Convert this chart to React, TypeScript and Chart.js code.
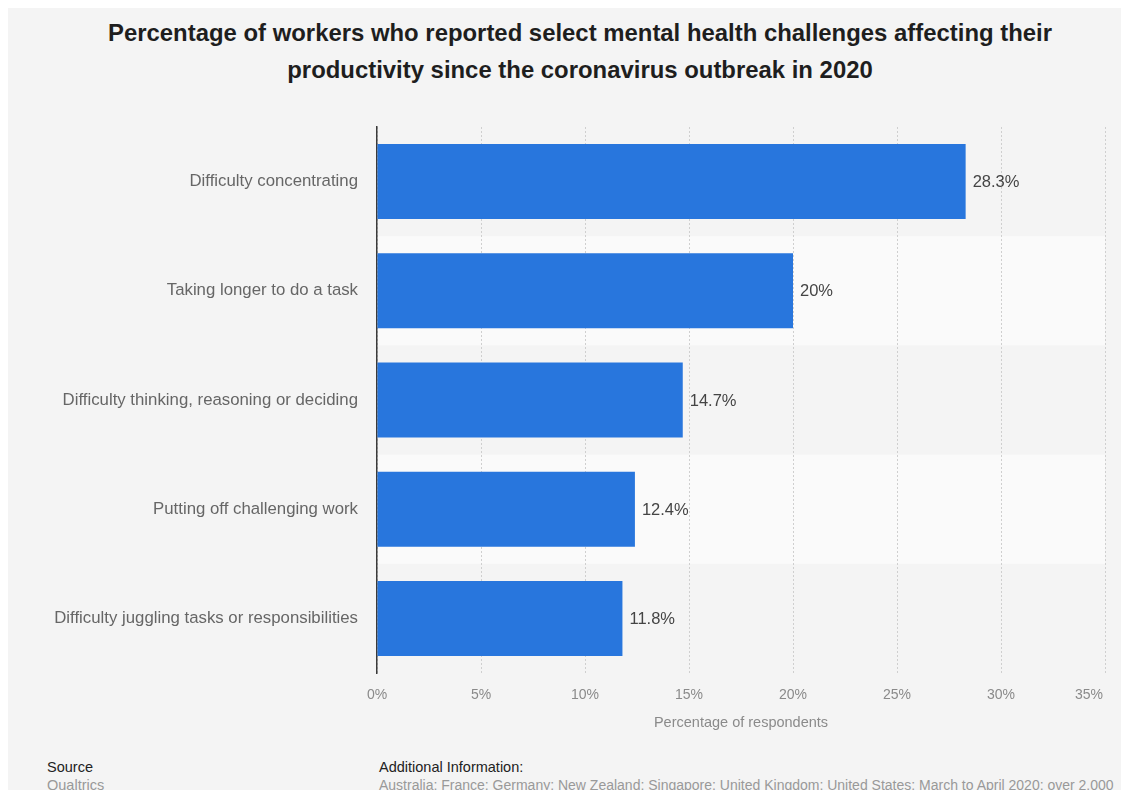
import React, { useEffect, useRef } from "react";
import { Chart, registerables } from "chart.js";

Chart.register(...registerables);

const titleLines = [
  "Percentage of workers who reported select mental health challenges affecting their",
  "productivity since the coronavirus outbreak in 2020",
];
const categories = [
  "Difficulty concentrating",
  "Taking longer to do a task",
  "Difficulty thinking, reasoning or deciding",
  "Putting off challenging work",
  "Difficulty juggling tasks or responsibilities",
];
const values = [28.3, 20, 14.7, 12.4, 11.8];
const xTicks = [0, 5, 10, 15, 20, 25, 30, 35];
const xAxisTitle = "Percentage of respondents";
const sourceLabel = "Source";
const sourceText = "Qualtrics";
const infoLabel = "Additional Information:";
const infoText =
  "Australia; France; Germany; New Zealand; Singapore; United Kingdom; United States; March to April 2020; over 2,000";

const FONT = "'Liberation Sans', Arial, Helvetica, sans-serif";
const TICK_COLOR = "#8a8a8a";
const TICK_SIZE = 14;

export default function App() {
  const canvasRef = useRef<HTMLCanvasElement | null>(null);

  useEffect(() => {
    document.documentElement.style.overflow = "hidden";
    document.body.style.overflow = "hidden";
    const canvas = canvasRef.current;
    if (!canvas) return;

    const bandsPlugin = {
      id: "bands",
      beforeDraw(chart: any) {
        const { ctx, chartArea, scales } = chart;
        const y = scales.y;
        const step = (chartArea.bottom - chartArea.top) / categories.length;
        ctx.save();
        ctx.fillStyle = "#fafafa";
        categories.forEach((_, i) => {
          if (i % 2 === 1) {
            const c = y.getPixelForValue(i);
            ctx.fillRect(chartArea.left, c - step / 2, chartArea.right - chartArea.left, step);
          }
        });
        ctx.restore();
      },
    };

    const labelsPlugin = {
      id: "valueLabels",
      afterDatasetsDraw(chart: any) {
        const { ctx } = chart;
        const meta = chart.getDatasetMeta(0);
        ctx.save();
        ctx.font = `16.5px ${FONT}`;
        ctx.fillStyle = "#444444";
        ctx.textAlign = "left";
        ctx.textBaseline = "middle";
        meta.data.forEach((bar: any, i: number) => {
          ctx.fillText(`${values[i]}%`, bar.x + 7, bar.y + 1);
        });
        ctx.restore();
      },
      afterDraw(chart: any) {
        // last tick label justified inside the plot, as in the reference
        const { ctx, scales } = chart;
        const x = scales.x;
        const last = xTicks[xTicks.length - 1];
        const px = x.getPixelForValue(last);
        ctx.save();
        ctx.font = `${TICK_SIZE}px ${FONT}`;
        ctx.fillStyle = TICK_COLOR;
        ctx.textAlign = "right";
        ctx.textBaseline = "middle";
        ctx.fillText(`${last}%`, px - 2, x.top + 14 + (TICK_SIZE * 1.2) / 2);
        ctx.restore();
      },
    };

    const chart = new Chart(canvas, {
      type: "bar",
      data: {
        labels: categories,
        datasets: [
          {
            data: values,
            backgroundColor: "#2876dd",
            borderWidth: 0,
            categoryPercentage: 1,
            barPercentage: 0.687,
          },
        ],
      },
      options: {
        indexAxis: "y",
        animation: false,
        responsive: false,
        maintainAspectRatio: false,
        layout: { padding: { top: 119, right: 24, left: 0, bottom: 0 } },
        plugins: {
          legend: { display: false },
          tooltip: { enabled: false },
          title: { display: false },
        },
        scales: {
          x: {
            min: 0,
            max: 35,
            afterBuildTicks(scale: any) {
              scale.ticks = xTicks.map((v) => ({ value: v }));
            },
            afterFit(scale: any) {
              scale.height = 75;
              scale.paddingLeft = 0;
              scale.paddingRight = 0;
            },
            ticks: {
              padding: 14,
              color: (c: any) => (c.index === xTicks.length - 1 ? "rgba(0,0,0,0)" : TICK_COLOR),
              font: { family: FONT, size: TICK_SIZE },
              maxRotation: 0,
              callback: (v: any) => `${v}%`,
            },
            grid: {
              color: "#cfcfcf",
              lineWidth: 1,
              drawTicks: false,
            },
            border: { display: false, dash: [2, 2] },
            title: {
              display: true,
              text: xAxisTitle,
              color: TICK_COLOR,
              font: { family: FONT, size: 14.5 },
              padding: { top: 0, bottom: 16 },
            },
          },
          y: {
            afterFit(scale: any) {
              scale.width = 369;
              scale.paddingTop = 0;
              scale.paddingBottom = 0;
            },
            ticks: {
              padding: 19,
              color: "#666666",
              font: { family: FONT, size: 16.8 },
            },
            grid: { display: false, drawTicks: false },
            border: { display: true, color: "#3a3a3a", width: 1.5 },
          },
        },
      },
      plugins: [bandsPlugin, labelsPlugin],
    });

    return () => {
      chart.destroy();
    };
  }, []);

  return (
    <div
      style={{
        position: "relative",
        width: 1121,
        height: 782,
        background: "#f4f4f4",
        overflow: "hidden",
        fontFamily: FONT,
      }}
    >
      <div
        style={{
          position: "absolute",
          left: 572,
          top: 6,
          transform: "translateX(-50%)",
          whiteSpace: "nowrap",
          textAlign: "center",
          fontWeight: "bold",
          fontSize: 23.9,
          lineHeight: "37px",
          color: "#1e1e1e",
        }}
      >
        {titleLines.map((l, i) => (
          <div key={i}>{l}</div>
        ))}
      </div>
      <canvas
        ref={canvasRef}
        width={1121}
        height={740}
        style={{ position: "absolute", left: 0, top: 0, width: 1121, height: 740 }}
      />
      <div
        style={{
          position: "absolute",
          left: 39,
          top: 750,
          fontSize: 14.5,
          lineHeight: "18px",
          whiteSpace: "nowrap",
        }}
      >
        <div style={{ color: "#222" }}>{sourceLabel}</div>
        <div style={{ color: "#999" }}>{sourceText}</div>
      </div>
      <div
        style={{
          position: "absolute",
          left: 371,
          top: 750,
          fontSize: 14,
          lineHeight: "18px",
          whiteSpace: "nowrap",
        }}
      >
        <div style={{ color: "#222", fontSize: 14.5 }}>{infoLabel}</div>
        <div style={{ color: "#999" }}>{infoText}</div>
      </div>
    </div>
  );
}
